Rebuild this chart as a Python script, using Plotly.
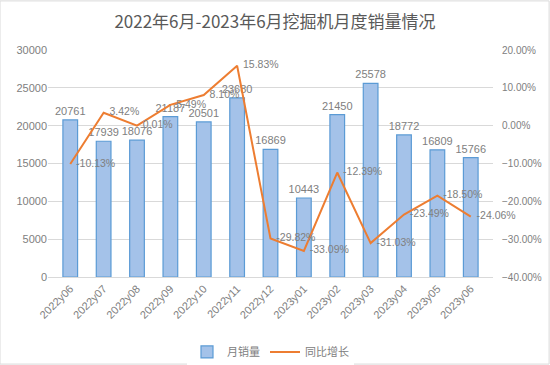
import plotly.graph_objects as go

months = ["2022y06", "2022y07", "2022y08", "2022y09", "2022y10", "2022y11", "2022y12",
          "2023y01", "2023y02", "2023y03", "2023y04", "2023y05", "2023y06"]
sales = [20761, 17939, 18076, 21187, 20501, 23680, 16869, 10443, 21450, 25578, 18772, 16809, 15766]
yoy = [-10.13, 3.42, 0.01, 5.49, 8.10, 15.83, -29.82, -33.09, -12.39, -31.03, -23.49, -18.50, -24.06]
yoy_frac = [v / 100 for v in yoy]

gray = "#808080"
font_main = "Liberation Sans, Noto Sans CJK SC"

fig = go.Figure()
fig.add_trace(go.Bar(
    x=months, y=sales, name="月销量",
    marker=dict(color="#A4C2E9", line=dict(color="#5B9BD5", width=1.2)),
    width=0.44,
    text=[str(v) for v in sales], textposition="outside", textangle=0,
    constraintext="none",
    textfont=dict(color=gray, size=11), cliponaxis=False,
))
fig.add_trace(go.Scatter(
    x=months, y=yoy_frac, name="同比增长", yaxis="y2",
    mode="lines+text",
    line=dict(color="#ED7D31", width=2),
    text=["  " + f"{v:.2f}%" for v in yoy], textposition="middle right",
    textfont=dict(color=gray, size=10.5), cliponaxis=False,
))

fig.update_layout(
    width=550, height=365,
    margin=dict(l=48, r=57, t=50, b=88, autoexpand=False),
    paper_bgcolor="white", plot_bgcolor="white",
    font=dict(family=font_main, color=gray, size=11),
    title=dict(text="2022年6月-2023年6月挖掘机月度销量情况", x=0.5, xanchor="center",
               y=0.94, yanchor="middle",
               font=dict(family="Noto Sans CJK SC", size=17, color="#595959")),
    xaxis=dict(tickangle=-45, showgrid=False, showline=True, linecolor="#d9d9d9",
               ticks="", tickfont=dict(size=11, color=gray), automargin=False),
    yaxis=dict(range=[0, 30000], dtick=5000, tickformat="d", showgrid=True, gridcolor="#d9d9d9",
               zeroline=False, tickfont=dict(size=11, color=gray), ticks="", automargin=False),
    yaxis2=dict(range=[-0.4, 0.2], dtick=0.1, tickformat=".2%", overlaying="y",
                side="right", showgrid=False, zeroline=False, automargin=False,
                tickfont=dict(size=10, color=gray), ticks="", ticklabelstandoff=8),
    legend=dict(orientation="h", x=0.5, xanchor="center", y=-0.33, yanchor="middle",
                font=dict(family="Noto Sans CJK SC", size=11, color=gray)),
    bargap=0.5,
    shapes=[dict(type="rect", xref="paper", yref="paper", x0=-48/445, x1=1+57/445 - 0.002,
                 y0=-88/227 + 0.004, y1=1+50/227 - 0.004,
                 line=dict(color="#d9d9d9", width=1))],
)

fig.write_html("out.html", config={"displayModeBar": False},
               post_script="document.body.style.margin='0';")
